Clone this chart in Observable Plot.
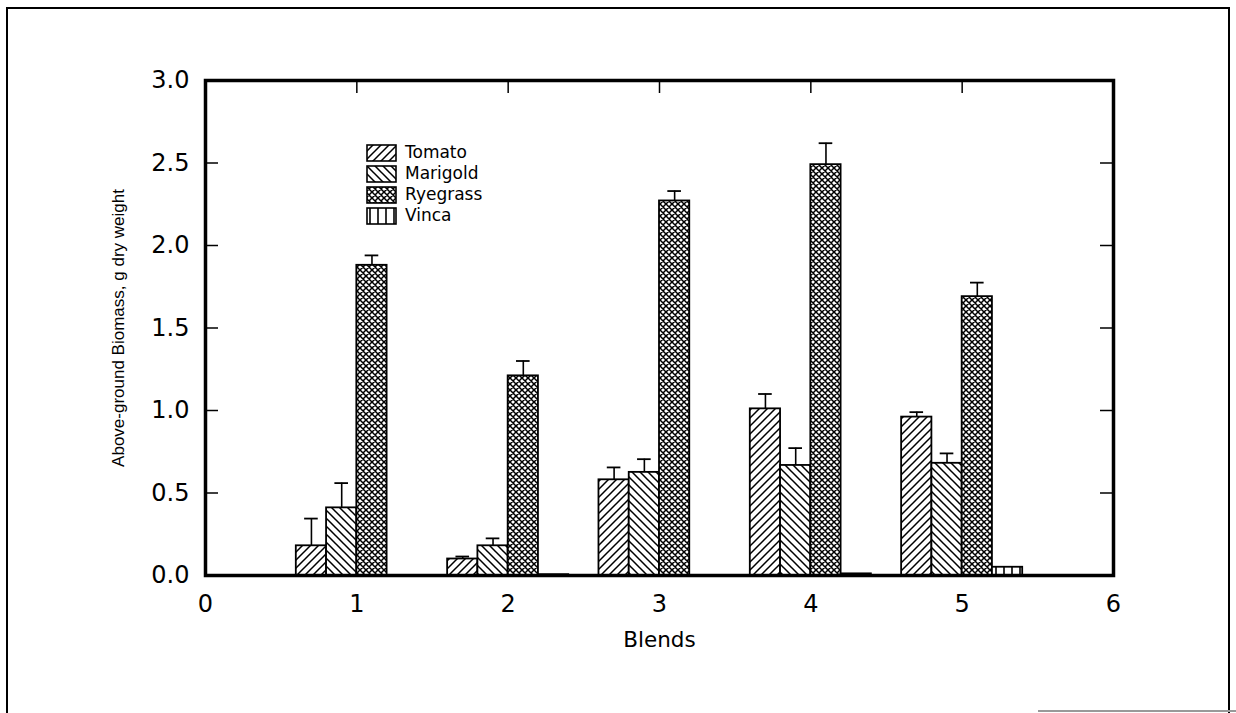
<!DOCTYPE html>
<html><head><meta charset="utf-8">
<script src="https://cdn.jsdelivr.net/npm/d3@7"></script>
<script src="https://cdn.jsdelivr.net/npm/@observablehq/plot@0.6"></script>
<style>
html,body{margin:0;padding:0;background:#fff;}
#wrap{position:relative;width:1236px;height:713px;overflow:hidden;font-family:"DejaVu Sans",Verdana,sans-serif;}
#page-border{position:absolute;left:6px;top:7px;width:1224px;height:760px;border:2px solid #000;box-sizing:border-box;}
#bottom-line{position:absolute;left:1038px;top:710px;width:198px;height:2px;background:#999;}
#chart{position:absolute;left:0;top:0;}
#legend{position:absolute;left:366px;top:142px;}
.item{display:flex;align-items:center;height:21px;font-size:17px;color:#000;line-height:21px;}
.item svg{margin-right:8px;display:block;}
</style></head><body>
<div id="wrap"><div id="page-border"></div><div id="bottom-line"></div><div id="chart"></div><div id="legend"></div></div>
<script>
// ---- data ----
const blends = [1, 2, 3, 4, 5];
const species = ["Tomato", "Marigold", "Ryegrass", "Vinca"];
const tomato       = [0.18, 0.10, 0.58, 1.01, 0.96];
const tomatoErr    = [0.165, 0.015, 0.075, 0.09, 0.03];
const marigold     = [0.41, 0.18, 0.625, 0.667, 0.68];
const marigoldErr  = [0.15, 0.045, 0.08, 0.105, 0.06];
const ryegrass     = [1.88, 1.21, 2.27, 2.49, 1.69];
const ryegrassErr  = [0.06, 0.09, 0.06, 0.13, 0.085];
const vinca        = [0.0, 0.005, 0.0, 0.01, 0.05];
const vincaErr     = [0, 0, 0, 0, 0];
const xTicks = [0, 1, 2, 3, 4, 5, 6];
const yTicks = [0, 0.5, 1.0, 1.5, 2.0, 2.5, 3.0];
const innerYTicks = [0.5, 1.0, 1.5, 2.0, 2.5];
const topTicks = [1, 2, 3, 4, 5];
const xLabel = "Blends";
const yLabel = "Above-ground Biomass, g dry weight";

const values = [tomato, marigold, ryegrass, vinca];
const errs = [tomatoErr, marigoldErr, ryegrassErr, vincaErr];
const patternIds = ["tomato", "marigold", "ryegrass", "vinca"];
const barW = 0.2;
const rows = species.flatMap((s, i) => blends.map((b, j) => ({
  species: s, si: i, blend: b, value: values[i][j], err: errs[i][j]
})));
const x1 = d => d.blend + (d.si - 2) * barW;
const x2 = d => d.blend + (d.si - 1) * barW;
const xc = d => d.blend + (d.si - 1.5) * barW;

function patternDefs(prefix) {
  return `
  <pattern id="${prefix}tomato" patternUnits="userSpaceOnUse" width="8" height="8">
    <rect width="8" height="8" fill="#fff"/>
    <path d="M0,8 L8,0 M-1,1 L1,-1 M7,9 L9,7" stroke="#000" stroke-width="1.5" fill="none"/>
  </pattern>
  <pattern id="${prefix}marigold" patternUnits="userSpaceOnUse" width="8" height="8">
    <rect width="8" height="8" fill="#fff"/>
    <path d="M0,0 L8,8 M-1,7 L1,9 M7,-1 L9,1" stroke="#000" stroke-width="1.5" fill="none"/>
  </pattern>
  <pattern id="${prefix}ryegrass" patternUnits="userSpaceOnUse" width="6" height="6">
    <rect width="6" height="6" fill="#fff"/>
    <path d="M0,6 L6,0 M-1,1 L1,-1 M5,7 L7,5 M0,0 L6,6 M-1,5 L1,7 M5,-1 L7,1" stroke="#000" stroke-width="1.5" fill="none"/>
  </pattern>
  <pattern id="${prefix}vinca" patternUnits="userSpaceOnUse" width="8" height="8">
    <rect width="8" height="8" fill="#fff"/>
    <path d="M4,0 V8" stroke="#000" stroke-width="1.6" fill="none"/>
  </pattern>`;
}

const W = 1236, H = 713, mL = 205, mR = 123, mT = 80, mB = 138;
const plotW = W - mL - mR, plotH = H - mT - mB;

const barMarks = species.map((s, i) => Plot.rect(rows.filter(d => d.si === i), {
  x1, x2, y1: 0, y2: "value", fill: `url(#p-${patternIds[i]})`, stroke: "#000", strokeWidth: 1.8
}));
const errRows = rows.filter(d => d.err > 0);

const chart = Plot.plot({
  width: W, height: H, marginLeft: mL, marginRight: mR, marginTop: mT, marginBottom: mB,
  style: {fontFamily: "'DejaVu Sans', Verdana, sans-serif", background: "transparent", color: "#000"},
  x: {domain: [0, 6]},
  y: {domain: [0, 3]},
  marks: [
    ...barMarks,
    Plot.ruleX(errRows, {x: xc, y1: "value", y2: d => d.value + d.err, stroke: "#000", strokeWidth: 1.6}),
    Plot.ruleY(errRows, {y: d => d.value + d.err, x1: d => xc(d) - 0.045, x2: d => xc(d) + 0.045, stroke: "#000", strokeWidth: 1.8}),
    Plot.frame({stroke: "#000", strokeWidth: 3.5}),
    Plot.tickY(innerYTicks, {y: d => d, insetRight: plotW - 13, stroke: "#000", strokeWidth: 1.5}),
    Plot.tickY(innerYTicks, {y: d => d, insetLeft: plotW - 13, stroke: "#000", strokeWidth: 1.5}),
    Plot.tickX(topTicks, {x: d => d, insetBottom: plotH - 13, stroke: "#000", strokeWidth: 1.5}),
    Plot.axisX(xTicks, {tickSize: 0, tickPadding: 19, fontSize: 24, tickFormat: d => String(d), label: null}),
    Plot.axisY(yTicks, {tickSize: 0, tickPadding: 16, fontSize: 24, tickFormat: d3.format(".1f"), label: null}),
    Plot.text([xLabel], {frameAnchor: "bottom", dy: 71, fontSize: 21.5, fill: "#000"}),
    Plot.text([yLabel], {frameAnchor: "left", dx: -87, rotate: -90, textAnchor: "middle", fontSize: 17, fill: "#000", fontFamily: "'Liberation Sans', Arial, sans-serif"})
  ]
});
d3.select(chart).insert("defs", ":first-child").html(patternDefs("p-"));
document.getElementById("chart").appendChild(chart);

// legend
const legend = d3.select("#legend");
species.forEach((s, i) => {
  const item = legend.append("div").attr("class", "item");
  const sv = item.append("svg").attr("width", 31).attr("height", 18);
  sv.append("defs").html(patternDefs("lg" + i + "-"));
  sv.append("rect").attr("x", 1).attr("y", 1).attr("width", 29).attr("height", 16)
    .attr("fill", `url(#lg${i}-${patternIds[i]})`).attr("stroke", "#000").attr("stroke-width", 1.6);
  item.append("span").text(s);
});
</script>
</body></html>
